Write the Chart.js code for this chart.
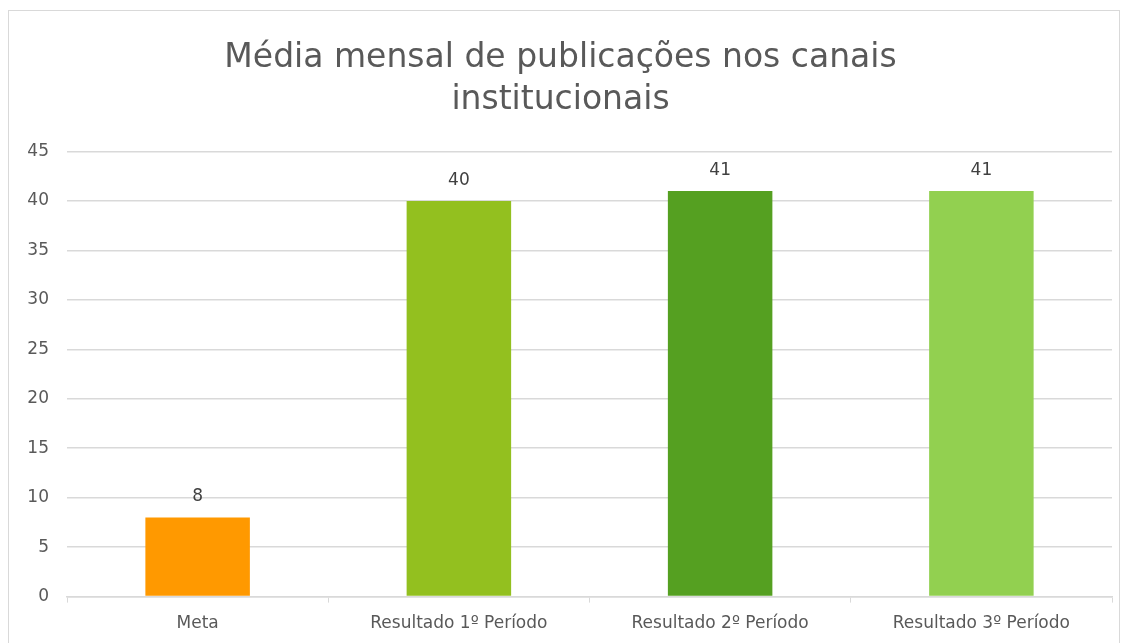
<!DOCTYPE html>
<html>
<head>
<meta charset="utf-8">
<script src="https://cdn.jsdelivr.net/npm/chart.js@4"></script>
<style>
  body { margin: 0; background: #fff; }
  #box {
    position: absolute; left: 8px; top: 10px;
    width: 1112px; height: 640px;
    border: 1px solid #d9d9d9; box-sizing: border-box;
  }
</style>
</head>
<body>
<div id="box"><canvas id="chart"></canvas></div>
<script>
// データ
const categories = ['Meta', 'Resultado 1º Período', 'Resultado 2º Período', 'Resultado 3º Período'];
const values     = [8, 40, 41, 41];
const barColors  = ['#ff9900', '#93c01f', '#55a021', '#92d050'];
const titleLines = ['Média mensal de publicações nos canais', 'institucionais'];

const FONT = "'DejaVu Sans', Verdana, sans-serif";
const TEXT = '#595959';

// 値ラベル（バーの上に表示）
const valueLabels = {
    id: 'valueLabels',
    afterDatasetsDraw(chart) {
        const ctx  = chart.ctx;
        const meta = chart.getDatasetMeta(0);
        ctx.save();
        ctx.font = `17px ${FONT}`;
        ctx.fillStyle = '#404040';
        ctx.textAlign = 'center';
        ctx.textBaseline = 'bottom';
        meta.data.forEach((bar, i) => {
            ctx.fillText(values[i], bar.x, bar.y - 12);
        });
        ctx.restore();
    }
};

new Chart(document.getElementById('chart'), {
    type: 'bar',
    data: {
        labels: categories,
        datasets: [{ data: values, backgroundColor: barColors, borderWidth: 0, barPercentage: 0.4, categoryPercentage: 1 }],
    },
    options: {
        responsive: true,
        maintainAspectRatio: false,
        animation: false,
        layout: { padding: { left: 0, right: 7, top: 26, bottom: 4 } },
        plugins: {
            legend: { display: false },
            tooltip: { enabled: false },
            title: {
                display: true,
                text: titleLines,
                color: TEXT,
                font: { family: FONT, size: 33, weight: 'normal', lineHeight: 1.28 },
                padding: { top: 0, bottom: 30 },
            },
        },
        scales: {
            x: {
                grid: { display: true, drawOnChartArea: false, drawTicks: true, tickLength: 6, color: '#d9d9d9', offset: true },
                border: { color: '#d9d9d9', width: 1.5 },
                ticks: { color: TEXT, font: { family: FONT, size: 17 }, padding: 11 },
            },
            y: {
                min: 0, max: 45,
                ticks: { stepSize: 5, color: TEXT, font: { family: FONT, size: 17 }, padding: 18 },
                grid: { color: '#d9d9d9', lineWidth: 1.5, drawTicks: false },
                border: { display: false },
                afterFit(scale) { scale.width = 58; },
            },
        },
    },
    plugins: [valueLabels],
});
</script>
</body>
</html>
